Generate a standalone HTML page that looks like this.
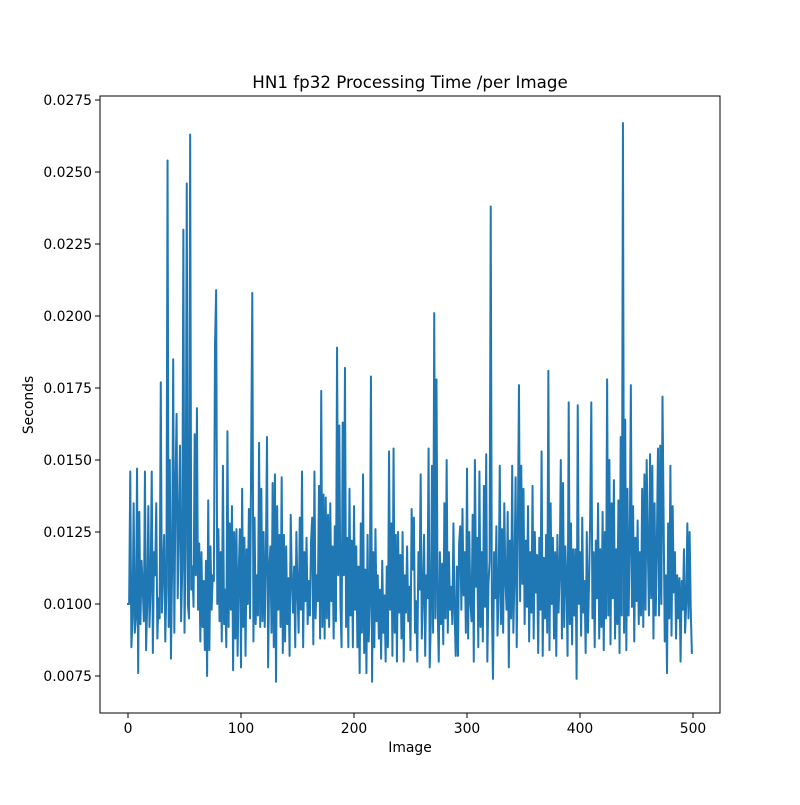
<!DOCTYPE html>
<html><head><meta charset="utf-8"><style>
body{margin:0;background:#fff}
svg text{font-family:"DejaVu Sans","Liberation Sans",sans-serif;fill:#000}
</style></head><body>
<svg id="chart" width="800" height="800" viewBox="0 0 800 800">
<rect x="0" y="0" width="800" height="800" fill="#fff"/>
<text x="410" y="88" font-size="16.7" text-anchor="middle">HN1 fp32 Processing Time /per Image</text>
<g id="plot"></g>
<text x="410" y="752" font-size="13.9" text-anchor="middle">Image</text>
<text transform="translate(33,405) rotate(-90)" font-size="13.9" text-anchor="middle">Seconds</text>
</svg>
<script>
const xTicks=[0,100,200,300,400,500];
const yTicks=[0.0075,0.0100,0.0125,0.0150,0.0175,0.0200,0.0225,0.0250,0.0275];
const yTickLabels=["0.0075","0.0100","0.0125","0.0150","0.0175","0.0200","0.0225","0.0250","0.0275"];
const seconds=[
0.0100,0.0100,0.0146,0.0085,0.0095,0.0135,0.0090,0.0095,0.0147,0.0076,0.0132,0.0093,0.0115,0.0106,0.0094,0.0146,0.0084,0.0100,0.0134,0.0092,
0.0106,0.0146,0.0083,0.0118,0.0110,0.0135,0.0088,0.0102,0.0095,0.0177,0.0097,0.0112,0.0124,0.0087,0.0106,0.0254,0.0092,0.0150,0.0081,0.0112,
0.0185,0.0090,0.0140,0.0166,0.0102,0.0128,0.0155,0.0094,0.0112,0.0230,0.0090,0.0120,0.0246,0.0100,0.0095,0.0263,0.0105,0.0113,0.0099,0.0159,
0.0110,0.0168,0.0098,0.0121,0.0087,0.0118,0.0092,0.0108,0.0084,0.0115,0.0075,0.0136,0.0084,0.0120,0.0098,0.0110,0.0108,0.0190,0.0209,0.0100,
0.0126,0.0094,0.0118,0.0087,0.0148,0.0093,0.0105,0.0085,0.0160,0.0092,0.0128,0.0098,0.0134,0.0077,0.0125,0.0088,0.0126,0.0082,0.0111,0.0126,
0.0078,0.0140,0.0092,0.0123,0.0082,0.0119,0.0100,0.0133,0.0095,0.0152,0.0208,0.0087,0.0130,0.0093,0.0110,0.0096,0.0156,0.0092,0.0140,0.0094,
0.0125,0.0092,0.0115,0.0158,0.0078,0.0112,0.0120,0.0090,0.0142,0.0085,0.0145,0.0073,0.0134,0.0098,0.0124,0.0092,0.0144,0.0083,0.0124,0.0087,
0.0120,0.0093,0.0109,0.0082,0.0131,0.0108,0.0097,0.0113,0.0085,0.0125,0.0105,0.0090,0.0130,0.0098,0.0146,0.0085,0.0118,0.0101,0.0123,0.0093,
0.0108,0.0096,0.0122,0.0130,0.0086,0.0146,0.0095,0.0110,0.0101,0.0141,0.0088,0.0174,0.0092,0.0138,0.0088,0.0137,0.0095,0.0131,0.0092,0.0135,
0.0101,0.0120,0.0088,0.0127,0.0094,0.0189,0.0110,0.0162,0.0100,0.0085,0.0163,0.0110,0.0182,0.0092,0.0123,0.0085,0.0140,0.0096,0.0122,0.0085,
0.0134,0.0098,0.0120,0.0085,0.0113,0.0076,0.0128,0.0090,0.0145,0.0083,0.0112,0.0076,0.0124,0.0087,0.0100,0.0179,0.0073,0.0118,0.0085,0.0126,
0.0094,0.0110,0.0088,0.0105,0.0081,0.0115,0.0090,0.0103,0.0080,0.0113,0.0085,0.0153,0.0098,0.0128,0.0082,0.0154,0.0090,0.0124,0.0080,0.0125,
0.0097,0.0117,0.0088,0.0125,0.0080,0.0110,0.0097,0.0120,0.0094,0.0106,0.0084,0.0133,0.0112,0.0130,0.0090,0.0101,0.0080,0.0118,0.0105,0.0145,
0.0088,0.0103,0.0124,0.0082,0.0110,0.0102,0.0154,0.0078,0.0094,0.0148,0.0090,0.0201,0.0095,0.0178,0.0099,0.0080,0.0118,0.0093,0.0114,0.0086,
0.0135,0.0095,0.0150,0.0090,0.0118,0.0098,0.0106,0.0093,0.0128,0.0097,0.0082,0.0113,0.0082,0.0121,0.0127,0.0098,0.0133,0.0103,0.0118,0.0090,
0.0147,0.0088,0.0125,0.0101,0.0094,0.0131,0.0080,0.0150,0.0106,0.0123,0.0085,0.0146,0.0092,0.0118,0.0087,0.0141,0.0099,0.0152,0.0080,0.0107,
0.0115,0.0238,0.0100,0.0074,0.0118,0.0102,0.0127,0.0089,0.0104,0.0148,0.0093,0.0126,0.0090,0.0135,0.0108,0.0098,0.0132,0.0078,0.0122,0.0095,
0.0148,0.0090,0.0110,0.0144,0.0085,0.0127,0.0176,0.0101,0.0148,0.0107,0.0140,0.0093,0.0122,0.0099,0.0134,0.0087,0.0118,0.0097,0.0141,0.0088,
0.0125,0.0104,0.0117,0.0083,0.0123,0.0098,0.0153,0.0082,0.0116,0.0095,0.0124,0.0090,0.0181,0.0084,0.0135,0.0100,0.0123,0.0088,0.0118,0.0082,
0.0124,0.0097,0.0110,0.0150,0.0088,0.0142,0.0092,0.0120,0.0108,0.0082,0.0170,0.0093,0.0128,0.0086,0.0119,0.0096,0.0119,0.0074,0.0169,0.0100,
0.0118,0.0089,0.0130,0.0097,0.0108,0.0083,0.0125,0.0090,0.0107,0.0130,0.0170,0.0095,0.0118,0.0085,0.0122,0.0102,0.0135,0.0088,0.0119,0.0092,
0.0132,0.0084,0.0125,0.0095,0.0178,0.0096,0.0150,0.0086,0.0135,0.0102,0.0143,0.0088,0.0119,0.0093,0.0136,0.0083,0.0158,0.0096,0.0267,0.0090,
0.0164,0.0084,0.0140,0.0096,0.0118,0.0176,0.0099,0.0134,0.0087,0.0123,0.0101,0.0129,0.0093,0.0118,0.0096,0.0140,0.0092,0.0145,0.0098,0.0150,
0.0120,0.0096,0.0152,0.0102,0.0148,0.0088,0.0135,0.0096,0.0120,0.0154,0.0096,0.0155,0.0100,0.0172,0.0130,0.0087,0.0110,0.0076,0.0128,0.0095,
0.0148,0.0089,0.0134,0.0104,0.0118,0.0088,0.0110,0.0095,0.0109,0.0080,0.0108,0.0098,0.0119,0.0090,0.0100,0.0128,0.0095,0.0125,0.0098,0.0083
];
const NS="http://www.w3.org/2000/svg";
const L=100,R=720,T=96,B=713;
function xs(i){return 128+i*(565/500);}
function ys(v){return 676-(v-0.0075)*28800;}
const g=document.getElementById('plot');
function mk(tag,attrs){const e=document.createElementNS(NS,tag);for(const k in attrs)e.setAttribute(k,attrs[k]);g.appendChild(e);return e;}
const pts=seconds.map((v,i)=>xs(i).toFixed(2)+","+ys(v).toFixed(2)).join(" ");
const line=mk('polyline',{points:pts,fill:'none',stroke:'#1f77b4','stroke-width':'2','stroke-linejoin':'round','stroke-linecap':'square'});


const frame=mk('rect',{x:L,y:T,width:R-L,height:B-T,fill:'none',stroke:'#000','stroke-width':'1'});


xTicks.forEach(t=>{
  const x=xs(t);
  const tk=mk('line',{x1:x,x2:x,y1:B,y2:B+5,stroke:'#000','stroke-width':'1'});
  
  
  const tx=mk('text',{x:x,y:B+20,'font-size':'13.9','text-anchor':'middle'});
  tx.textContent=String(t);
  
  
});
yTicks.forEach((t,i)=>{
  const y=ys(t);
  const tk=mk('line',{x1:L-5,x2:L,y1:y,y2:y,stroke:'#000','stroke-width':'1'});
  
  
  const tx=mk('text',{x:L-8,y:y+5,'font-size':'13.9','text-anchor':'end'});
  tx.textContent=yTickLabels[i];
  
  
});
</script>
</body></html>
